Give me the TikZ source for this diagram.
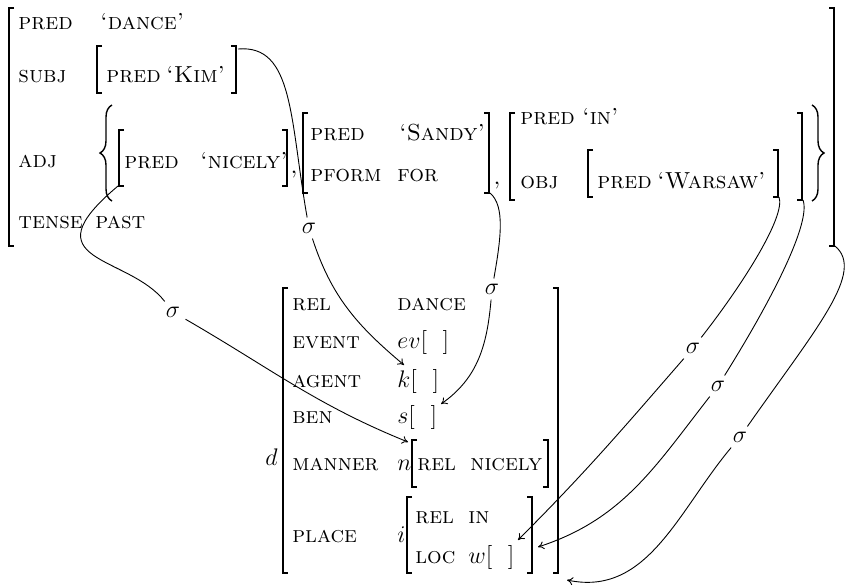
\documentclass[tikz,border=0pt]{standalone}
\usetikzlibrary{arrows.meta,decorations.pathreplacing}
\newcommand{\myLB}[3]{\draw[brk] ({#1+5},{-#2}) -- ({#1},{-#2}) -- ({#1},{-#3}) -- ({#1+5},{-#3});}
\newcommand{\myRB}[3]{\draw[brk] ({#1-5},{-#2}) -- ({#1},{-#2}) -- ({#1},{-#3}) -- ({#1-5},{-#3});}
\begin{document}
\begin{tikzpicture}[x=0.5pt,y=0.5pt,
  tt/.style={anchor=base west,inner sep=0pt,font=\fontsize{11.6}{14}\selectfont\scshape},
  t/.style={anchor=base west,inner sep=0pt,font=\fontsize{11.5}{14}\selectfont\scshape},
  m/.style={anchor=base west,inner sep=0pt,font=\fontsize{12}{14}\selectfont},
  brk/.style={line width=0.6pt},
  brc/.style={line width=0.7pt,decorate,decoration={brace,amplitude=6pt}},
  conn/.style={line width=0.45pt},
  arr/.style={conn,-{To[length=3pt,width=4pt]}},
  sig/.style={inner sep=2.5pt,font=\fontsize{12}{14}\selectfont}]
\useasboundingbox (0,0) rectangle (845,-585);

% ---------- top f-structure ----------
\myLB{9}{8}{246}
\myRB{834}{8}{246}
\node[tt] (p1) at (18,-29) {pred};
\node[tt] (v1) at (100,-29) {‘dance’};
\node[tt] (a2) at (18,-82) {subj};
\myLB{97}{46}{93}
\node[tt] (kp) at (106,-82) {pred};
\node[tt] (kv) at (166,-82) {‘Kim’};
\myRB{236}{46}{93}
\node[tt] (a3) at (18,-167) {adj};
\coordinate (lbb) at (112,-201);
\coordinate (lbt) at (112,-105);
\draw[brc] (lbb) -- (lbt);
\myLB{119}{130}{186}
\node[tt] (np) at (124,-168) {pred};
\node[tt] (nv) at (200,-168) {‘nicely’};
\myRB{287}{130}{186}
\node[tt] (cm1) at (290,-173) {,};
\myLB{303}{113}{193}
\node[tt] (sp) at (310,-140) {pred};
\node[tt] (sv) at (399,-140) {‘Sandy’};
\node[tt] (sf) at (310,-181) {pform};
\node[tt] (sfv) at (397,-181) {for};
\myRB{489}{113}{193}
\node[tt] (cm2) at (493,-184) {,};
\myLB{510}{113}{200}
\node[tt] (ip) at (520,-124) {pred};
\node[tt] (iv) at (582,-124) {‘in’};
\node[tt] (io) at (520,-188) {obj};
\myLB{588}{150}{197}
\node[tt] (wp) at (597,-188) {pred};
\node[tt] (wv) at (657,-188) {‘Warsaw’};
\myRB{778}{150}{197}
\myRB{802}{113}{200}
\coordinate (rbt) at (812,-105);
\coordinate (rbb) at (812,-201);
\draw[brc] (rbt) -- (rbb);
\node[tt] (a4) at (18,-228) {tense};
\node[tt] (v4) at (95,-228) {past};

% ---------- bottom s-structure ----------
\node[m] (d) at (265,-465) {$d$};
\myLB{283}{288}{573}
\myRB{558}{288}{573}
\node[t] (b1) at (292,-310) {rel};
\node[t] (b1v) at (397,-310) {dance};
\node[t] (b2) at (292,-348) {event};
\node[m] (b2v) at (397,-348) {$ev[\ \ ]$};
\node[t] (b3) at (292,-387) {agent};
\node[m] (b3v) at (397,-387) {$k[\ \ ]$};
\node[t] (b4) at (292,-423) {ben};
\node[m] (b4v) at (397,-423) {$s[\ \ ]$};
\node[t] (b5) at (292,-470) {manner};
\node[m] (b5v) at (397,-470) {$n$};
\myLB{412}{440}{487}
\node[t] (b5r) at (417,-470) {rel};
\node[t] (b5n) at (470,-470) {nicely};
\myRB{548}{440}{487}
\node[t] (b6) at (292,-542) {place};
\node[m] (b6v) at (397,-542) {$i$};
\myLB{407}{497}{573}
\node[t] (b6r) at (415,-523) {rel};
\node[t] (b6i) at (468,-523) {in};
\node[t] (b6l) at (415,-563) {loc};
\node[m] (b6w) at (468,-563) {$w[\ \ ]$};
\myRB{532}{497}{573}

% ---------- connector ends ----------
\coordinate (c1s) at (238,-49);
\coordinate (c2s) at (118,-186);
\coordinate (c3s) at (490,-193);
\coordinate (c4s) at (779,-197);
\coordinate (c5s) at (803,-200);
\coordinate (c6s) at (835,-246);
\coordinate (kT) at (404,-365);
\coordinate (sT) at (441,-404);
\coordinate (nT) at (408,-442);
\coordinate (wT) at (518,-540);
\coordinate (iT) at (538,-547);
\coordinate (dT) at (567,-580);

\node[sig] (s1) at (309,-228) {$\sigma$};
\node[sig] (s2) at (173,-312) {$\sigma$};
\node[sig] (s3) at (492,-289) {$\sigma$};
\node[sig] (s4) at (693,-348) {$\sigma$};
\node[sig] (s5) at (718,-386) {$\sigma$};
\node[sig] (s6) at (740,-437) {$\sigma$};

\draw[conn] (c1s) to[out=5,in=100,out distance=28pt,in distance=50pt] (s1);
\draw[arr] (s1) to[out=-72,in=140] (kT);
\draw[conn] (c2s) to[out=220,in=128,out distance=60pt,in distance=30pt] (s2);
\draw[arr] (s2) to[out=-30,in=158] (nT);
\draw[conn] (c3s) to[out=-40,in=80,out distance=10pt,in distance=20pt] (s3);
\draw[arr] (s3) to[out=-95,in=35] (sT);
\draw[conn] (c4s) to[out=-70,in=52,out distance=10pt,in distance=35pt] (s4);
\draw[arr] (s4) to[out=-131,in=45] (wT);
\draw[conn] (c5s) to[out=-70,in=58,out distance=12pt,in distance=45pt] (s5);
\draw[arr] (s5) to[out=-128,in=18] (iT);
\draw[conn] (c6s) to[out=-40,in=55,out distance=20pt,in distance=60pt] (s6);
\draw[arr] (s6) to[out=-130,in=-12] (dT);
\end{tikzpicture}
\end{document}
